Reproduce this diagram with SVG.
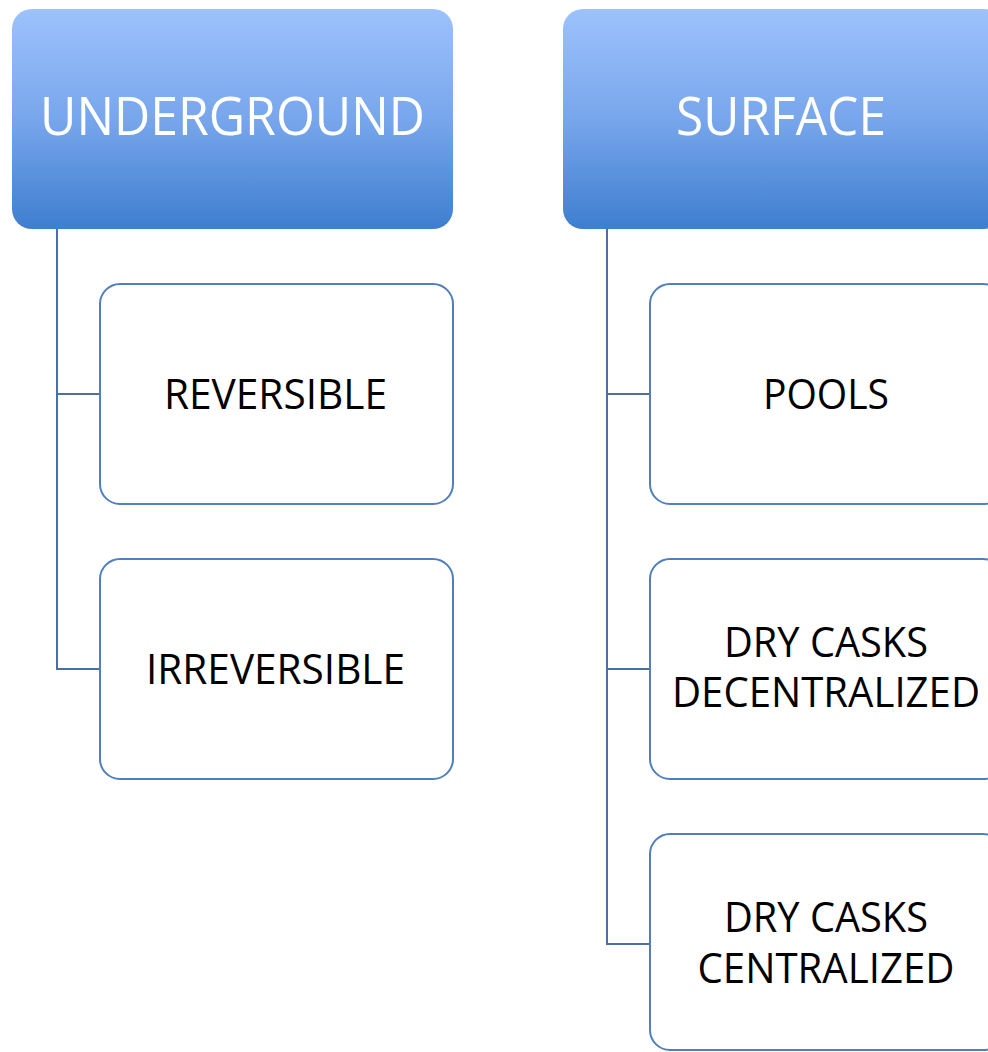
<svg xmlns="http://www.w3.org/2000/svg" width="988" height="1052" viewBox="0 0 988 1052">
<defs>
<linearGradient id="hg" x1="0" y1="0" x2="0" y2="1">
<stop offset="0" stop-color="#9dc2fd"/>
<stop offset="0.5" stop-color="#78a6ec"/>
<stop offset="1" stop-color="#3e7ecf"/>
</linearGradient>
<style>
.head{fill:url(#hg);stroke:none}
.child{fill:#ffffff;stroke:#4f7fbe;stroke-width:2}
.conn{fill:none;stroke:#4a6ea6;stroke-width:2}
.ht{font-family:"Open Sans","Liberation Sans",sans-serif;font-size:53px;fill:#ffffff;text-anchor:middle}
.ct{font-family:"Open Sans","Liberation Sans",sans-serif;font-size:42px;fill:#000000;text-anchor:middle}
</style>
</defs>
<rect width="988" height="1052" fill="#ffffff"/>
<g id="connectors">
<path class="conn" d="M57 229 V669 H100 M57 394 H100"/>
<path class="conn" d="M607 229 V944 H650 M607 394 H650 M607 669 H650"/>
</g>
<g id="underground">
<rect class="head" x="12" y="9" width="441" height="220" rx="20" ry="20"/>
<text class="ht" x="232.5" y="135" textLength="385" lengthAdjust="spacingAndGlyphs">UNDERGROUND</text>
</g>
<g id="surface">
<rect class="head" x="563" y="9" width="441" height="220" rx="20" ry="20"/>
<text class="ht" x="781" y="135" textLength="210" lengthAdjust="spacingAndGlyphs">SURFACE</text>
</g>
<g id="reversible">
<rect class="child" x="100" y="284" width="353" height="220" rx="20" ry="20"/>
<text class="ct" x="275.5" y="409" textLength="223" lengthAdjust="spacingAndGlyphs">REVERSIBLE</text>
</g>
<g id="irreversible">
<rect class="child" x="100" y="559" width="353" height="220" rx="20" ry="20"/>
<text class="ct" x="275.5" y="684" textLength="259" lengthAdjust="spacingAndGlyphs">IRREVERSIBLE</text>
</g>
<g id="pools">
<rect class="child" x="650" y="284" width="353" height="220" rx="20" ry="20"/>
<text class="ct" x="826" y="409" textLength="126" lengthAdjust="spacingAndGlyphs">POOLS</text>
</g>
<g id="dry-casks-decentralized">
<rect class="child" x="650" y="559" width="353" height="220" rx="20" ry="20"/>
<text class="ct" x="826" y="657" textLength="204" lengthAdjust="spacingAndGlyphs">DRY CASKS</text>
<text class="ct" x="826" y="707" textLength="308" lengthAdjust="spacingAndGlyphs">DECENTRALIZED</text>
</g>
<g id="dry-casks-centralized">
<rect class="child" x="650" y="834" width="353" height="216" rx="20" ry="20"/>
<text class="ct" x="826" y="932" textLength="204" lengthAdjust="spacingAndGlyphs">DRY CASKS</text>
<text class="ct" x="826" y="983" textLength="257" lengthAdjust="spacingAndGlyphs">CENTRALIZED</text>
</g>
</svg>
